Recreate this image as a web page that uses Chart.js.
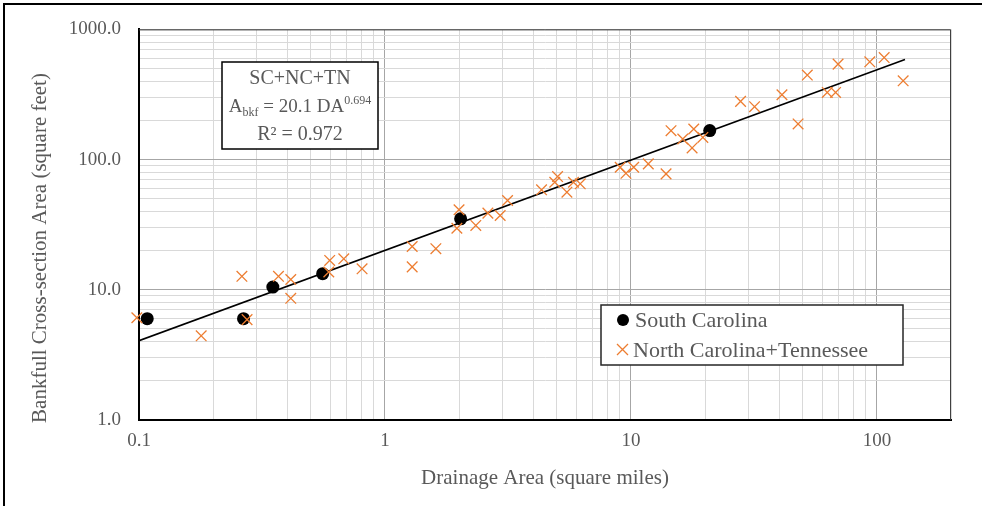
<!DOCTYPE html>
<html>
<head>
<meta charset="utf-8">
<script src="https://cdn.jsdelivr.net/npm/chart.js@4.4.0/dist/chart.umd.min.js"></script>
<style>
  html, body { margin: 0; padding: 0; background: #fff; }
  #wrap { position: relative; width: 982px; height: 506px; overflow: hidden; }
  #frame { position: absolute; left: 3px; top: 3px; right: -10px; bottom: -10px; border-top: 2px solid #000; border-left: 2px solid #000; pointer-events: none; }
  canvas { position: absolute; left: 0; top: 0; }
</style>
</head>
<body>
<div id="wrap">
  <canvas id="chart" width="982" height="506"></canvas>
  <div id="frame"></div>
</div>
<script>
// South Carolina sites
const scDrainage = [0.108, 0.266, 0.350, 0.558, 2.03, 20.9];
const scArea = [6.0, 6.0, 10.5, 13.3, 35.1, 167];

// North Carolina + Tennessee sites
const ncDrainage = [0.098, 0.179, 0.262, 0.275, 0.369, 0.414, 0.414, 0.596, 0.591, 0.680,
  0.807, 1.29, 1.29, 1.61, 2.00, 1.96, 2.34, 2.62, 2.94, 3.15,
  4.33, 5.03, 4.90, 5.49, 5.84, 6.22, 9.04, 9.54, 10.26, 11.76,
  13.89, 14.55, 16.24, 18.0, 17.72, 19.6, 27.9, 31.8, 41.1, 47.8,
  52.1, 62.8, 67.9, 69.5, 93.5, 107, 127.8];
const ncArea = [6.1, 4.43, 12.7, 5.9, 12.7, 12.0, 8.6, 16.8, 13.7, 17.3,
  14.5, 21.5, 15.0, 20.7, 41.2, 29.7, 31.2, 38.8, 37.2, 48.5,
  58.6, 74.1, 67.0, 56.2, 67.0, 65.2, 87.3, 78.5, 87.3, 92.7,
  77.7, 166.8, 144, 171.8, 122.9, 148, 280, 255, 315, 188,
  446, 328, 328, 541, 564, 608, 403];

// power trendline end points
const trendDrainage = [0.1, 130];
const trendArea = [4.07, 588];

const xDecades = [0.1, 1, 10, 100];
const yDecades = [1, 10, 100, 1000];
const xMin = 0.1, xMax = 200;
const yMin = 1, yMax = 1000;

const serif = "'Liberation Serif', 'Times New Roman', serif";
const textGrey = '#595959';
const orange = '#ED7D31';

function toPoints(xs, ys) {
  return xs.map((x, i) => ({ x: x, y: ys[i] }));
}

function isDecade(v) {
  const l = Math.log10(v);
  return Math.abs(l - Math.round(l)) < 1e-6;
}

function logTicks(decades, max) {
  const out = [];
  decades.forEach(d => {
    for (let k = 1; k <= 9; k++) {
      const v = +(d * k).toPrecision(6);
      if (v <= max + 1e-9) out.push({ value: v });
    }
  });
  return out;
}

function gridColor(c) {
  return c.tick && isDecade(c.tick.value) ? '#a6a6a6' : '#d9d9d9';
}

const boxesPlugin = {
  id: 'boxes',
  afterDraw(chart) {
    const ctx = chart.ctx;
    const a = chart.chartArea;
    ctx.save();

    // top and right edge of plot area
    ctx.strokeStyle = '#404040';
    ctx.lineWidth = 1;
    ctx.beginPath();
    ctx.moveTo(a.left, a.top + 0.5);
    ctx.lineTo(a.right - 0.5, a.top + 0.5);
    ctx.lineTo(a.right - 0.5, a.bottom);
    ctx.stroke();

    // y axis title
    ctx.fillStyle = textGrey;
    ctx.font = '21px ' + serif;
    ctx.textAlign = 'center';
    ctx.textBaseline = 'middle';
    ctx.translate(40, 248);
    ctx.rotate(-Math.PI / 2);
    ctx.fillText('Bankfull Cross-section Area (square feet)', 0, 0);
    ctx.setTransform(1, 0, 0, 1, 0, 0);

    // equation box
    const bx = 222, by = 62, bw = 156, bh = 87;
    ctx.fillStyle = '#fff';
    ctx.fillRect(bx, by, bw, bh);
    ctx.strokeStyle = '#000';
    ctx.lineWidth = 1.5;
    ctx.strokeRect(bx, by, bw, bh);
    const cx = bx + bw / 2;
    ctx.fillStyle = textGrey;
    ctx.textBaseline = 'alphabetic';
    ctx.textAlign = 'center';
    ctx.font = '20px ' + serif;
    ctx.fillText('SC+NC+TN', cx, by + 22);
    ctx.fillText('R² = 0.972', cx, by + 78);

    const parts = [
      { t: 'A', f: '19px ' + serif, dy: 0 },
      { t: 'bkf', f: '12px ' + serif, dy: 4 },
      { t: ' = 20.1 DA', f: '19px ' + serif, dy: 0 },
      { t: '0.694', f: '12px ' + serif, dy: -8 }
    ];
    let total = 0;
    parts.forEach(p => { ctx.font = p.f; p.w = ctx.measureText(p.t).width; total += p.w; });
    let px = cx - total / 2;
    ctx.textAlign = 'left';
    parts.forEach(p => {
      ctx.font = p.f;
      ctx.fillText(p.t, px, by + 50 + p.dy);
      px += p.w;
    });

    // legend box
    const lx = 601, ly = 305, lw = 302, lh = 60;
    ctx.fillStyle = '#fff';
    ctx.fillRect(lx, ly, lw, lh);
    ctx.strokeStyle = '#262626';
    ctx.lineWidth = 1.5;
    ctx.strokeRect(lx, ly, lw, lh);

    ctx.fillStyle = '#000';
    ctx.beginPath();
    ctx.arc(623, 320, 6, 0, Math.PI * 2);
    ctx.fill();

    ctx.strokeStyle = orange;
    ctx.lineWidth = 1.3;
    ctx.beginPath();
    ctx.moveTo(617, 344); ctx.lineTo(628, 355);
    ctx.moveTo(628, 344); ctx.lineTo(617, 355);
    ctx.stroke();

    ctx.fillStyle = textGrey;
    ctx.font = '22px ' + serif;
    ctx.textBaseline = 'middle';
    ctx.fillText('South Carolina', 635, 321);
    ctx.fillText('North Carolina+Tennessee', 633, 351);

    ctx.restore();
  }
};

new Chart(document.getElementById('chart'), {
  type: 'scatter',
  data: {
    datasets: [
      {
        label: 'North Carolina+Tennessee',
        data: toPoints(ncDrainage, ncArea),
        pointStyle: 'crossRot',
        pointRadius: 7.5,
        borderColor: orange,
        backgroundColor: orange,
        borderWidth: 1.3,
        clip: false,
        order: 1
      },
      {
        label: 'South Carolina',
        data: toPoints(scDrainage, scArea),
        pointStyle: 'circle',
        pointRadius: 6.5,
        borderWidth: 0,
        backgroundColor: '#000',
        borderColor: '#000',
        clip: false,
        order: 2
      },
      {
        label: 'trend',
        data: toPoints(trendDrainage, trendArea),
        showLine: true,
        pointRadius: 0,
        borderColor: '#000',
        borderWidth: 1.6,
        order: 3
      }
    ]
  },
  options: {
    responsive: false,
    animation: false,
    devicePixelRatio: 1,
    layout: { padding: { left: 0, top: 29, right: 31, bottom: 0 } },
    plugins: { legend: { display: false }, tooltip: { enabled: false } },
    scales: {
      x: {
        type: 'logarithmic',
        min: xMin,
        max: xMax,
        afterBuildTicks: s => { s.ticks = logTicks(xDecades, xMax); },
        afterFit: s => { s.height = 86; },
        grid: { color: gridColor, lineWidth: 1, drawTicks: false },
        border: { color: '#000', width: 2 },
        ticks: {
          autoSkip: false,
          maxRotation: 0,
          padding: 10,
          color: textGrey,
          font: { family: serif, size: 19 },
          callback: v => isDecade(v) ? String(v) : ''
        },
        title: {
          display: true,
          text: 'Drainage Area (square miles)',
          color: textGrey,
          font: { family: serif, size: 21 },
          padding: { top: 0, bottom: 15 }
        }
      },
      y: {
        type: 'logarithmic',
        min: yMin,
        max: yMax,
        afterBuildTicks: s => { s.ticks = logTicks(yDecades, yMax); },
        afterFit: s => { s.width = 139; },
        grid: { color: gridColor, lineWidth: 1, drawTicks: false },
        border: { color: '#000', width: 2 },
        ticks: {
          autoSkip: false,
          padding: 18,
          color: textGrey,
          font: { family: serif, size: 19 },
          callback: v => isDecade(v) ? v.toFixed(1) : ''
        }
      }
    }
  },
  plugins: [boxesPlugin]
});
</script>
</body>
</html>
